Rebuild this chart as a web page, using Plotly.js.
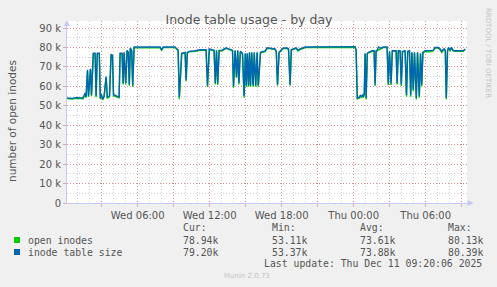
<!DOCTYPE html>
<html>
<head>
<meta charset="utf-8">
<script src="https://cdn.plot.ly/plotly-3.0.1.min.js"></script>
<style>html,body{margin:0;padding:0;background:#f0f0f0;}#chart{width:497px;height:287px;}</style>
</head>
<body>
<div id="chart"></div>
<script>
// minutes since Wed 2025-12-10 00:00
const sampleMinutes = [7,32,52,72,87,97,102,109,114,124,
129,138,147,152,158,168,173,178,185,192,
202,208,219,227,234,239,257,267,272,282,
287,292,300,307,313,318,323,330,335,342,
472,480,487,547,554,562,568,580,597,602,
608,617,647,672,702,709,718,742,748,754,
760,767,782,802,812,834,839,847,854,860,
866,873,884,892,898,903,908,914,919,924,
930,937,943,950,957,963,974,982,997,1007,
1032,1047,1053,1059,1067,1077,1087,1107,1114,1122,
1128,1137,1152,1162,1172,1182,1197,1447,1452,1458,
1467,1474,1479,1484,1489,1493,1497,1502,1508,1514,
1532,1542,1547,1552,1558,1564,1577,1587,1607,1613,
1619,1627,1633,1652,1657,1663,1672,1678,1684,1697,
1704,1710,1719,1725,1731,1738,1744,1753,1759,1768,
1774,1780,1786,1797,1822,1837,1847,1862,1872,1880,
1892,1898,1903,1909,1914,1922,1929,1937,1947,1987,
1998];

// inode table size (thousands)
const inodeTableSize = [54.0,53.8,54.2,54.0,54.0,56.5,54.5,68.5,55.0,69.0,
55.5,77.0,77.0,55.0,77.0,77.0,54.0,56.0,53.4,55.0,
65.0,54.5,55.0,76.5,76.0,55.7,55.0,54.5,77.0,77.0,
61.7,77.5,61.7,78.5,77.5,61.0,79.7,78.5,60.5,80.2,
80.2,78.8,80.3,80.2,79.5,78.8,54.5,77.0,77.5,63.4,
77.5,78.0,78.3,78.8,78.8,60.5,79.2,78.5,61.7,78.5,
61.5,78.5,78.6,79.8,79.4,78.6,60.0,78.5,65.0,78.5,
61.7,78.0,77.0,55.0,77.0,60.5,77.0,60.5,77.5,60.5,
77.5,60.5,77.5,60.5,77.5,60.5,77.5,77.8,78.2,79.8,
79.5,79.2,78.0,61.0,77.5,78.5,79.7,79.7,79.2,61.0,
78.8,79.2,79.8,78.5,79.3,79.6,80.2,80.4,78.8,54.0,
54.3,55.5,54.5,55.5,55.0,56.5,77.0,54.0,77.0,77.5,
78.3,78.3,61.0,78.3,78.7,80.2,79.5,80.2,80.2,61.5,
78.0,61.5,78.3,78.3,61.7,78.3,78.3,61.0,78.0,78.3,
55.5,78.0,78.3,55.5,77.5,58.3,77.5,54.0,77.5,55.0,
77.0,60.8,77.5,78.3,78.2,78.5,80.0,80.0,79.2,78.0,
79.3,78.5,54.0,78.0,80.0,78.7,80.0,78.5,78.3,78.3,
79.2];

// open inodes (thousands)
const openInodes = [53.7,53.5,53.9,53.7,53.6,56.1,54.1,68.0,54.5,68.6,
55.0,76.7,76.7,54.4,76.7,76.7,53.4,55.6,53.1,54.6,
64.6,54.0,54.6,76.2,75.7,55.2,54.6,54.1,76.7,76.7,
61.0,77.2,61.0,78.2,77.2,60.3,79.4,78.2,59.8,79.8,
79.8,78.4,79.9,79.9,79.2,78.5,53.4,76.7,77.2,62.6,
77.2,77.7,78.0,78.5,78.5,59.7,78.9,78.2,61.0,78.2,
60.8,78.2,78.3,79.5,79.1,78.3,59.3,78.2,64.3,78.2,
61.0,77.7,76.7,54.2,76.7,59.8,76.7,59.8,77.2,59.8,
77.2,59.8,77.2,59.8,77.2,59.8,77.2,77.5,77.9,79.5,
79.2,78.9,77.7,60.3,77.2,78.2,79.4,79.4,78.9,60.3,
78.5,78.9,79.5,78.2,79.0,79.3,79.9,80.1,78.5,53.5,
53.9,55.1,54.1,55.1,54.6,56.0,76.7,53.3,76.7,77.2,
78.0,78.0,60.2,78.0,78.3,78.9,79.2,79.9,79.9,60.7,
77.7,60.7,78.0,78.0,60.9,78.0,78.0,60.2,77.7,78.0,
54.7,77.7,78.0,54.7,77.2,57.5,77.2,53.2,77.2,54.2,
76.7,60.0,77.2,77.8,77.7,78.2,79.7,79.7,78.9,77.4,
79.0,78.2,53.3,77.7,79.7,78.4,79.7,78.2,78.0,78.0,
78.94];

const seriesNames = ['open inodes', 'inode table size'];
const seriesColors = ['#00cc00', '#0066b3'];
const statHeaders = ['Cur:', 'Min:', 'Avg:', 'Max:'];
const statsOpen = ['78.94k', '53.11k', '73.61k', '80.13k'];
const statsSize = ['79.20k', '53.37k', '73.88k', '80.39k'];

const xTickVals = ['2025-12-10 03:00','2025-12-10 06:00','2025-12-10 09:00','2025-12-10 12:00',
  '2025-12-10 15:00','2025-12-10 18:00','2025-12-10 21:00','2025-12-11 00:00',
  '2025-12-11 03:00','2025-12-11 06:00','2025-12-11 09:00'];
const xTickText = ['','Wed 06:00','','Wed 12:00','','Wed 18:00','','Thu 00:00','','Thu 06:00',''];
const yTickVals = [0,10000,20000,30000,40000,50000,60000,70000,80000,90000];
const yTickText = ['0','10 k','20 k','30 k','40 k','50 k','60 k','70 k','80 k','90 k'];

function toTime(m) {
  return new Date(Date.UTC(2025, 11, 10, 0, m)).toISOString().slice(0, 16).replace('T', ' ');
}
const times = sampleMinutes.map(toTime);

// layout geometry (pixels)
const L = 67, R = 467, T = 21, B = 203;
const px = x => (x - L) / (R - L);
const py = y => (B - y) / (B - T);

const majorGrid = 'rgba(215,90,90,0.5)';
const minorGrid = 'rgba(150,150,150,0.45)';
const axisCol = '#c4c8f4';
const txt = '#555555';

const traces = [
  {x: times, y: openInodes.map(v => v * 1000), name: seriesNames[0], type: 'scatter', mode: 'lines',
   line: {color: seriesColors[0], width: 1.4}},
  {x: times, y: inodeTableSize.map(v => v * 1000), name: seriesNames[1], type: 'scatter', mode: 'lines',
   line: {color: seriesColors[1], width: 1.4}}
];

const mono = {family: 'DejaVu Sans Mono', size: 9.8, color: txt};
const ann = [];
ann.push({text: 'number of open inodes', textangle: -90, xref: 'paper', yref: 'paper',
  x: px(12), y: py(121), xanchor: 'center', yanchor: 'middle', showarrow: false,
  font: {family: 'DejaVu Sans', size: 10.5, color: txt}});
ann.push({text: 'RRDTOOL / TOBI OETIKER', textangle: 90, xref: 'paper', yref: 'paper',
  x: px(488), y: py(53), xanchor: 'center', yanchor: 'middle', showarrow: false,
  font: {family: 'DejaVu Sans', size: 7, color: '#c4c4c4'}});
const colX = [181, 269.5, 358, 446];
statHeaders.forEach((h, i) => ann.push({text: h, xref: 'paper', yref: 'paper', x: px(colX[i]), y: py(227.3),
  xanchor: 'left', yanchor: 'middle', showarrow: false, font: mono}));
[[seriesNames[0], statsOpen, 240], [seriesNames[1], statsSize, 252]].forEach(([name, st, y]) => {
  ann.push({text: name, xref: 'paper', yref: 'paper', x: px(25.5), y: py(y), xanchor: 'left', yanchor: 'middle',
    showarrow: false, font: mono});
  st.forEach((s, i) => ann.push({text: s, xref: 'paper', yref: 'paper', x: px(colX[i]), y: py(y),
    xanchor: 'left', yanchor: 'middle', showarrow: false, font: mono}));
});
ann.push({text: 'Last update: Thu Dec 11 09:20:06 2025', xref: 'paper', yref: 'paper', x: px(483.5), y: py(263.5),
  xanchor: 'right', yanchor: 'middle', showarrow: false, font: mono});
ann.push({text: 'Munin 2.0.73', xref: 'paper', yref: 'paper', x: px(247.3), y: py(276),
  xanchor: 'center', yanchor: 'middle', showarrow: false, font: {family: 'DejaVu Sans', size: 7, color: '#c4c4c4'}});

const shapes = [
  {type: 'rect', xref: 'paper', yref: 'paper', x0: px(14), x1: px(20), y0: py(237), y1: py(243),
   fillcolor: seriesColors[0], line: {width: 0}},
  {type: 'rect', xref: 'paper', yref: 'paper', x0: px(14), x1: px(20), y0: py(249), y1: py(255),
   fillcolor: seriesColors[1], line: {width: 0}},
  {type: 'path', xref: 'paper', yref: 'paper',
   path: `M ${px(64)},${py(26)} L ${px(70)},${py(26)} L ${px(67)},${py(20.5)} Z`,
   fillcolor: axisCol, line: {width: 0}},
  {type: 'path', xref: 'paper', yref: 'paper',
   path: `M ${px(467.5)},${py(200)} L ${px(467.5)},${py(206)} L ${px(473.5)},${py(203)} Z`,
   fillcolor: axisCol, line: {width: 0}}
];

const layout = {
  width: 497, height: 287,
  margin: {l: L, r: 497 - R, t: T, b: 287 - B, pad: 0},
  paper_bgcolor: '#f0f0f0', plot_bgcolor: '#ffffff',
  showlegend: false,
  title: {text: 'Inode table usage - by day', xref: 'container', yref: 'container',
    x: 249 / 497, xanchor: 'center', y: 1 - 19.5 / 287, yanchor: 'middle',
    font: {family: 'DejaVu Sans', size: 12.5, color: txt}},
  xaxis: {type: 'date', range: ['2025-12-10 00:06:30', '2025-12-11 09:26:30'],
    tickmode: 'array', tickvals: xTickVals, ticktext: xTickText,
    showgrid: true, gridcolor: majorGrid, griddash: '1px,2px', gridwidth: 1,
    ticks: 'outside', ticklen: 3, tickcolor: majorGrid,
    minor: {dtick: 3600000, tick0: '2025-12-10 00:00', showgrid: true, gridcolor: minorGrid, griddash: '1px,2px', ticks: ''},
    showline: true, linecolor: axisCol, linewidth: 1, zeroline: false,
    tickfont: {family: 'DejaVu Sans', size: 10, color: txt}, fixedrange: true},
  yaxis: {range: [0, 90000 * (B - T) / 175],
    tickmode: 'array', tickvals: yTickVals, ticktext: yTickText,
    showgrid: true, gridcolor: majorGrid, griddash: '1px,2px', gridwidth: 1,
    ticks: 'outside', ticklen: 3, tickcolor: majorGrid,
    minor: {dtick: 5000, tick0: 0, showgrid: true, gridcolor: minorGrid, griddash: '1px,2px', ticks: ''},
    showline: true, linecolor: axisCol, linewidth: 1, zeroline: false,
    tickfont: {family: 'DejaVu Sans', size: 10, color: txt}, fixedrange: true},
  annotations: ann,
  shapes: shapes
};

Plotly.newPlot('chart', traces, layout, {displayModeBar: false, staticPlot: true});
</script>
</body>
</html>
